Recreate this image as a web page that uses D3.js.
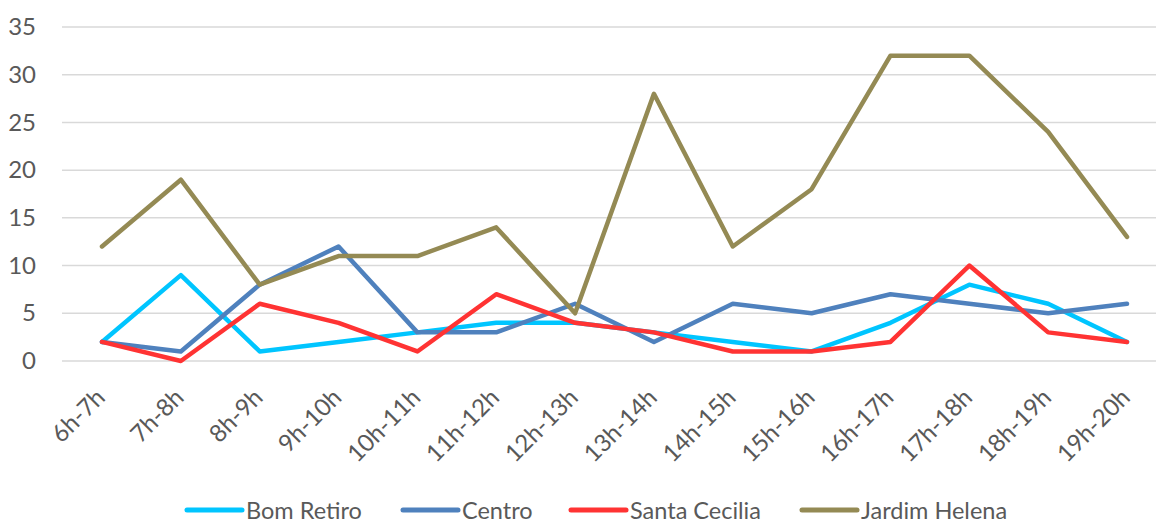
<!DOCTYPE html>
<html>
<head>
<meta charset="utf-8">
<script src="https://cdn.jsdelivr.net/npm/d3@7"></script>
<style>
  body { margin: 0; background: #fff; }
  text { font-family: Lato, "Open Sans", sans-serif; fill: #595959; }
</style>
</head>
<body>
<div id="chart"></div>
<script>
// data
const hours = ["6h-7h", "7h-8h", "8h-9h", "9h-10h", "10h-11h", "11h-12h", "12h-13h",
  "13h-14h", "14h-15h", "15h-16h", "16h-17h", "17h-18h", "18h-19h", "19h-20h"]
const seriesNames = ["Bom Retiro", "Centro", "Santa Cecilia", "Jardim Helena"]
const bomRetiro = [2, 9, 1, 2, 3, 4, 4, 3, 2, 1, 4, 8, 6, 2]
const centro = [2, 1, 8, 12, 3, 3, 6, 2, 6, 5, 7, 6, 5, 6]
const santaCecilia = [2, 0, 6, 4, 1, 7, 4, 3, 1, 1, 2, 10, 3, 2]
const jardimHelena = [12, 19, 8, 11, 11, 14, 5, 28, 12, 18, 32, 32, 24, 13]
const yTicks = [0, 5, 10, 15, 20, 25, 30, 35]

const colors = ["#00c5ff", "#4f81bd", "#ff3333", "#948a54"]
const allSeries = [bomRetiro, centro, santaCecilia, jardimHelena]

const width = 1156
const height = 522

const svg = d3.select("div#chart").append("svg").attr("width", width).attr("height", height)

const x = d3.scalePoint().domain(hours).range([102, 1127])
const y = d3.scaleLinear().domain([0, 35]).range([361, 27])

// grid
const gridGroup = svg.append("g").attr("class", "gridGroup")
gridGroup.selectAll("line").data(yTicks).enter().append("line")
    .attr("x1", 62).attr("x2", width)
    .attr("y1", d => y(d)).attr("y2", d => y(d))
    .attr("stroke", "#d9d9d9").attr("stroke-width", 1.5)

// y axis labels
const yAxis = d3.axisLeft(y).tickValues(yTicks).tickSize(0).tickPadding(0)
const yAxisGroup = svg.append("g").attr("transform", "translate(36, 0)").call(yAxis)
yAxisGroup.select(".domain").remove()
yAxisGroup.selectAll("text").style("font-size", "24px").attr("fill", "#595959")

// x axis labels
const xAxis = d3.axisBottom(x).tickSize(0).tickPadding(0)
const xAxisGroup = svg.append("g").attr("transform", "translate(0, 399)").call(xAxis)
xAxisGroup.select(".domain").remove()
xAxisGroup.selectAll("text")
    .style("font-size", "24px").attr("fill", "#595959")
    .attr("text-anchor", "end")
    .attr("y", 0)
    .attr("dy", "0")
    .attr("transform", "translate(4, 0) rotate(-45)")

// lines
const line = d3.line().x((d, i) => x(hours[i])).y(d => y(d))
const lineGroup = svg.append("g").attr("class", "lineGroup")
lineGroup.selectAll("path").data(allSeries).enter().append("path")
    .attr("d", d => line(d))
    .attr("fill", "none")
    .attr("stroke", (d, i) => colors[i])
    .attr("stroke-width", 4.5)
    .attr("stroke-linejoin", "round")
    .attr("stroke-linecap", "round")

// legend
const legendX = [187, 403, 571, 802]
const legend = svg.append("g").attr("class", "legend")
const items = legend.selectAll("g").data(seriesNames).enter().append("g")
    .attr("transform", (d, i) => `translate(${legendX[i]}, 510)`)
items.append("line")
    .attr("x1", 0).attr("x2", 55).attr("y1", 0).attr("y2", 0)
    .attr("stroke", (d, i) => colors[i]).attr("stroke-width", 5).attr("stroke-linecap", "round")
items.append("text")
    .attr("x", 59).attr("y", 8.5)
    .style("font-size", "23.5px")
    .text(d => d)
</script>
</body>
</html>
